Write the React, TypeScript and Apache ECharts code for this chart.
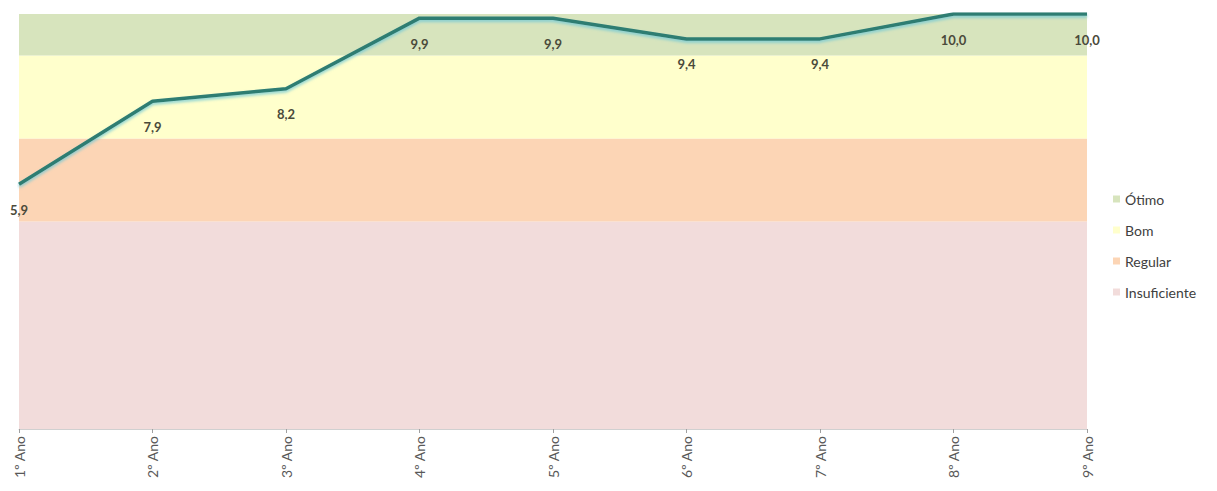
import React, { useEffect, useRef } from "react";
import * as echarts from "echarts";

const categories = ["1º Ano", "2º Ano", "3º Ano", "4º Ano", "5º Ano", "6º Ano", "7º Ano", "8º Ano", "9º Ano"];
const scores = [5.9, 7.9, 8.2, 9.9, 9.9, 9.4, 9.4, 10.0, 10.0];
const bandNames = ["Insuficiente", "Regular", "Bom", "Ótimo"];
const bandHeights = [5, 2, 2, 1];
const bandColors = ["#f2dcdb", "#fcd5b5", "#ffffcc", "#d7e4bd"];
const legendOrder = ["Ótimo", "Bom", "Regular", "Insuficiente"];

export default function App() {
  const ref = useRef<HTMLDivElement>(null);
  useEffect(() => {
    if (!ref.current) return;
    const chart = echarts.init(ref.current, undefined, { renderer: "svg" });
    const bandSeries = bandNames.map((name, i) => ({
      name,
      type: "line",
      stack: "bands",
      data: categories.map(() => bandHeights[i]),
      showSymbol: false,
      symbol: "none",
      lineStyle: { width: 0 },
      itemStyle: { color: bandColors[i] },
      areaStyle: { color: bandColors[i], opacity: 1 },
      silent: true,
      z: 1,
    }));
    chart.setOption({
      animation: false,
      grid: { left: 19, right: 130, top: 14, bottom: 62 },
      legend: {
        data: legendOrder,
        orient: "vertical",
        left: 1108,
        top: 187,
        itemGap: 17,
        itemWidth: 7,
        itemHeight: 7,
        icon: "rect",
        textStyle: { fontSize: 14, color: "#404040", fontFamily: "Lato" },
      },
      xAxis: {
        type: "category",
        data: categories,
        boundaryGap: false,
        axisLine: { lineStyle: { color: "#d0d0d0", width: 1 } },
        axisTick: { show: true, alignWithLabel: true, lineStyle: { color: "#a0a0a0" }, length: 4 },
        axisLabel: { rotate: 90, fontSize: 14, color: "#595959", fontFamily: "Lato", margin: 7 },
      },
      yAxis: {
        type: "value",
        min: 0,
        max: 10,
        show: false,
        splitLine: { show: false },
      },
      series: [
        ...bandSeries,
        {
          name: "Nota",
          type: "line",
          data: scores,
          symbol: "circle",
          symbolSize: 0,
          showSymbol: true,
          lineStyle: { color: "#2e7d72", width: 3.5, shadowColor: "rgba(110,200,215,0.8)", shadowBlur: 3, shadowOffsetY: 2 },
          itemStyle: { color: "#2e7d72" },
          z: 5,
          label: {
            show: true,
            position: "bottom",
            distance: 19,
            formatter: (p: any) => p.value.toFixed(1).replace(".", ","),
            fontSize: 13,
            fontWeight: "bold",
            color: "#4a4a3a",
            fontFamily: "Lato",
          },
        },
      ],
    });
    return () => chart.dispose();
  }, []);
  return <div ref={ref} style={{ width: 1217, height: 491, margin: -8 }} />;
}
